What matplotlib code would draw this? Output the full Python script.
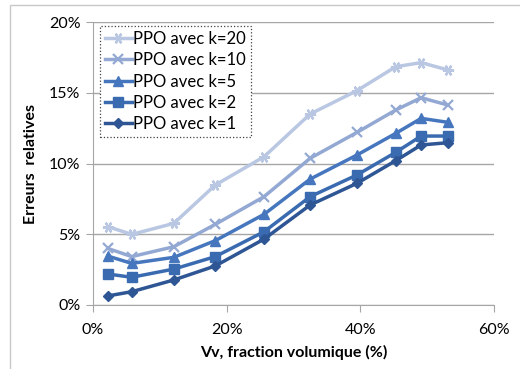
import matplotlib
matplotlib.use("Agg")
import matplotlib.pyplot as plt
from matplotlib.ticker import FuncFormatter, MultipleLocator
from matplotlib.patches import Rectangle

vv = [2.2, 5.8, 12.1, 18.3, 25.6, 32.5, 39.5, 45.3, 49.1, 53.1]
k20 = [5.54, 4.99, 5.77, 8.48, 10.48, 13.5, 15.15, 16.84, 17.13, 16.61]
k10 = [4.0, 3.42, 4.12, 5.70, 7.66, 10.37, 12.2, 13.78, 14.65, 14.13]
k5 = [3.46, 2.94, 3.37, 4.55, 6.41, 8.9, 10.6, 12.13, 13.19, 12.91]
k2 = [2.19, 1.96, 2.54, 3.42, 5.18, 7.66, 9.19, 10.79, 11.94, 11.94]
k1 = [0.64, 0.94, 1.77, 2.76, 4.66, 7.07, 8.6, 10.2, 11.31, 11.47]
labels = ["PPO avec k=20", "PPO avec k=10", "PPO avec k=5", "PPO avec k=2", "PPO avec k=1"]

plt.rcParams['font.family'] = ['Lato', 'DejaVu Sans']

fig = plt.figure(figsize=(5.2, 3.69), dpi=100)
fig.patches.append(Rectangle((10/520, -0.1), 1.2, 1.1 - 5/369, transform=fig.transFigure,
                             fill=False, edgecolor='#c8c8c8', lw=1.0))
ax = fig.add_axes([93/520, 1 - 305/369, 401/520, 283/369])

series = [k20, k10, k5, k2, k1]
colors = ['#B9C7E2', '#93A9D3', '#4677BE', '#3A6BB0', '#2E5594']
markers = [(6, 2, 30), 'x', '^', 's', 'D']
msizes = [8, 6.5, 6.5, 6.5, 5]
for y, c, m, ms, lab in zip(series, colors, markers, msizes, labels):
    ax.plot(vv, y, color=c, marker=m, markersize=ms, lw=2.5, label=lab,
            markeredgecolor=c, markerfacecolor=c, markeredgewidth=1.6 if m in ('x', (6, 2, 30)) else 1)

ax.set_xlim(0, 60)
ax.set_ylim(0, 20)
ax.xaxis.set_major_locator(MultipleLocator(20))
ax.yaxis.set_major_locator(MultipleLocator(5))
ax.xaxis.set_major_formatter(FuncFormatter(lambda v, p: f"{v:.0f}%"))
ax.yaxis.set_major_formatter(FuncFormatter(lambda v, p: f"{v:.0f}%"))
ax.grid(axis='y', color='#a6a6a6', lw=1)
ax.set_axisbelow(True)
for s in ['top', 'right']:
    ax.spines[s].set_visible(False)
for s in ['left', 'bottom']:
    ax.spines[s].set_color('#a6a6a6')
ax.tick_params(axis='both', colors='#a6a6a6', labelcolor='black', labelsize=11.5, length=5, direction='out')
ax.tick_params(axis='x', pad=8)
ax.tick_params(axis='y', pad=4)
ax.set_xlabel("Vv, fraction volumique (%)", fontsize=11.5, fontweight='bold', labelpad=6)
ax.set_ylabel("Erreurs  relatives", fontsize=11.5, fontweight='bold', labelpad=8)

leg = ax.legend(loc='upper left', bbox_to_anchor=(7/401, 1 - 4/283), fontsize=12, frameon=True,
                fancybox=False, handlelength=1.6, handletextpad=0.1, borderpad=0.3,
                labelspacing=0.32, borderaxespad=0)
fr = leg.get_frame()
fr.set_edgecolor('#404040')
fr.set_linestyle(':')
fr.set_linewidth(0.9)
fr.set_alpha(1)

fig.savefig("out.png", dpi=100)
